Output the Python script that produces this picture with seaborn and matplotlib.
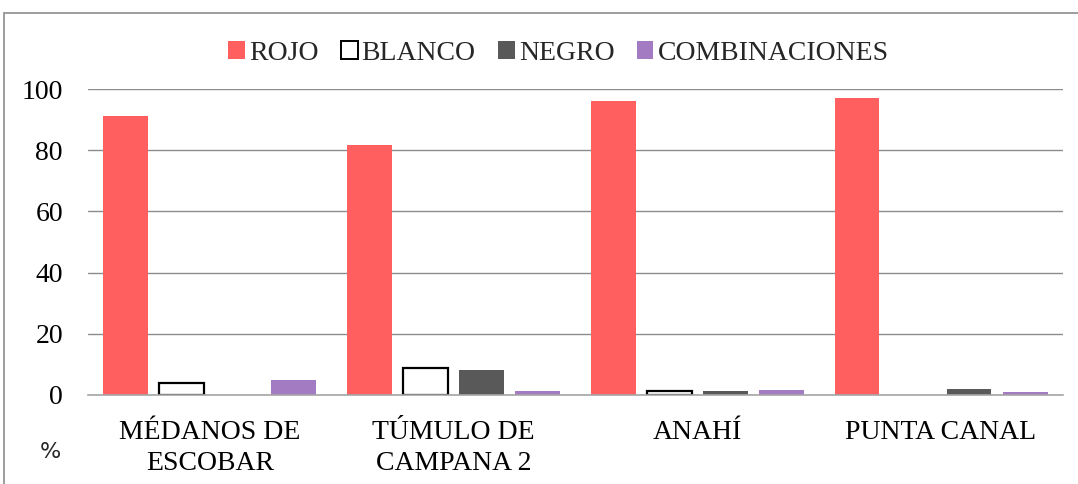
import matplotlib
matplotlib.use("Agg")
import matplotlib.pyplot as plt
import seaborn as sns
import pandas as pd
from matplotlib.patches import Rectangle, Patch

categories = ["MÉDANOS DE\nESCOBAR", "TÚMULO DE\nCAMPANA 2", "ANAHÍ", "PUNTA CANAL"]
series = ["ROJO", "BLANCO", "NEGRO", "COMBINACIONES"]
rojo = [91.2, 81.7, 96.1, 97.1]
blanco = [3.9, 8.8, 1.2, 0.0]
negro = [0.0, 8.2, 1.3, 2.0]
combinaciones = [4.9, 1.3, 1.6, 1.0]
yticks = [0, 20, 40, 60, 80, 100]

colors = {"ROJO": "#FF5F5F", "BLANCO": "#FFFFFF", "NEGRO": "#595959", "COMBINACIONES": "#A27BC3"}

rows = []
for name, vals in zip(series, [rojo, blanco, negro, combinaciones]):
    for c, v in zip(categories, vals):
        rows.append({"cat": c, "serie": name, "val": v})
df = pd.DataFrame(rows)

sns.set_theme(style="white")
plt.rcParams["font.family"] = ["Liberation Serif", "DejaVu Serif"]

fig = plt.figure(figsize=(10.78, 4.84), dpi=100)
ax = fig.add_axes([0.0816, 0.1839, 0.9044, 0.6322])

sns.barplot(data=df, x="cat", y="val", hue="serie", order=categories, hue_order=series,
            palette=colors, width=0.92, gap=0.2, ax=ax, legend=False, saturation=1)

for p in ax.patches:
    if p.get_height() <= 0:
        p.set_visible(False)
        continue
    fc = p.get_facecolor()
    if fc[0] > 0.99 and fc[1] > 0.99 and fc[2] > 0.99:
        p.set_edgecolor("black")
        p.set_linewidth(1.6)
    else:
        p.set_edgecolor("none")

ax.set_ylim(0, 100)
ax.set_yticks(yticks)
ax.set_xlim(-0.5, 3.5)
ax.yaxis.grid(True, color="#8c8c8c", linewidth=1)
ax.set_axisbelow(True)
for s in ["top", "right", "left"]:
    ax.spines[s].set_visible(False)
ax.spines["bottom"].set_color("#a6a6a6")
ax.spines["bottom"].set_linewidth(1.2)
ax.tick_params(axis="both", length=0, labelsize=20, colors="black")
ax.tick_params(axis="y", pad=18)
ax.tick_params(axis="x", pad=18)
for t in ax.get_xticklabels():
    t.set_linespacing(1.3)
ax.set_xlabel("")
ax.set_ylabel("")

fig.text(50 / 1078, 1 - 452 / 484, "%", family="DejaVu Sans", fontsize=16, ha="center", va="center")

handles = [Patch(facecolor=colors[s], edgecolor="black" if s == "BLANCO" else colors[s],
                 linewidth=1.4 if s == "BLANCO" else 0) for s in series]
fig.legend(handles, series, loc="center", bbox_to_anchor=(0.518, 1 - 53 / 484), ncol=4,
           frameon=False, fontsize=20, handlelength=0.6, handleheight=0.6,
           handletextpad=0.15, columnspacing=0.8)

fig.add_artist(Rectangle((4 / 1078, -0.5), 1.2, 1.5 - 13 / 484, transform=fig.transFigure,
                         fill=False, edgecolor="#8c8c8c", linewidth=1.2))

fig.savefig("out.png", dpi=100)
